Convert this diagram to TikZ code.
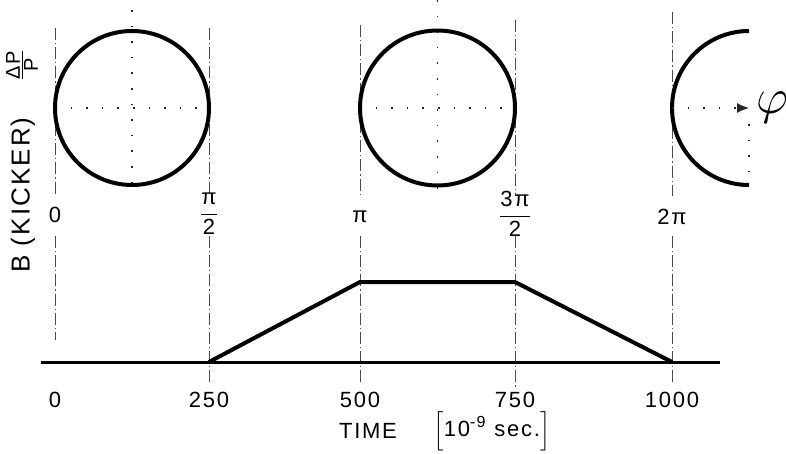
\documentclass[tikz,border=0pt]{standalone}
\usepackage{fontspec}
\setmainfont[LetterSpace=8]{Liberation Sans}
\usepackage{amsmath}
\usetikzlibrary{arrows.meta}

\begin{document}
\begin{tikzpicture}[x=0.5pt,y=-0.5pt,
  guide/.style={line width=0.4pt, black!70, dash pattern=on 6pt off 1.5pt on 0.6pt off 1.5pt},
  centreline/.style={line width=0.6pt, black!85, dash pattern=on 0.8pt off 7pt},
  trace/.style={line width=2pt},
  lbl/.style={font=\fontsize{11}{13}\selectfont}]
  \useasboundingbox (0,0) rectangle (786,454);

  % vertical guides, broken where the phase labels sit
  \foreach \x/\top/\bot in {55/28/340, 209/28/385, 360/25/385, 515/20/387, 672/12/382} {
    \draw[guide] (\x,\top) -- (\x,196);
    \draw[guide] (\x,236) -- (\x,\bot);
  }

  % phase space ellipses
  \draw[centreline] (132,10) -- (132,192);
  \draw[centreline] (55,108) -- (209,108);
  \draw[trace] (132,108) circle (77);

  \draw[centreline] (437.5,0) -- (437.5,190);
  \draw[centreline] (360,108) -- (515,108);
  \draw[trace] (437.5,108) circle (77.5);

  \draw[trace] (749,31) arc (270:90:77);
  \coordinate (phitip) at (749,108);
  \draw[centreline] (749,124) -- (749,176);
  \draw[centreline, -{Latex[length=6pt,width=5pt]}] (672,108) -- (phitip);
  \node[font=\fontsize{24}{24}\selectfont, anchor=west] (phi) at (phitip) {$\varphi$};

  % phase labels
  \node[lbl] (ph0) at (55,215) {0};
  \node[lbl] (ph1) at (209,214) {$\dfrac{\mbox{π}}{\mbox{2}}$};
  \node[lbl] (ph2) at (360,217) {π};
  \node[lbl] (ph3) at (515,214) {$\dfrac{\mbox{3π}}{\mbox{2}}$};
  \node[lbl] (ph4) at (672,217) {2π};

  % axis titles
  \node[rotate=90, font=\fontsize{10}{12}\selectfont] (dpp) at (22,65) {$\frac{\mbox{ΔP}}{\mbox{P}}$};
  \node[rotate=90, font=\fontsize{13}{15}\selectfont] (bkick) at (23,195) {B (KICKER)};

  % kicker pulse
  \draw[line width=1.5pt] (41,362) -- (720,362);
  \draw[trace, line join=round] (209,362) -- (360,282) -- (515,282) -- (672,362);

  % time axis
  \foreach \x/\t in {55/0, 209/250, 360/500, 515/750, 672/1000}
    \node[lbl] (t\t) at (\x,400) {\t};
  \node[lbl] (time) at (368,431) {TIME};
  \node[lbl] (unit) at (492,431) {$\Bigl[\mbox{10}^{\mbox{\footnotesize -9}}\mbox{ sec.}\Bigr]$};

\end{tikzpicture}
\end{document}
